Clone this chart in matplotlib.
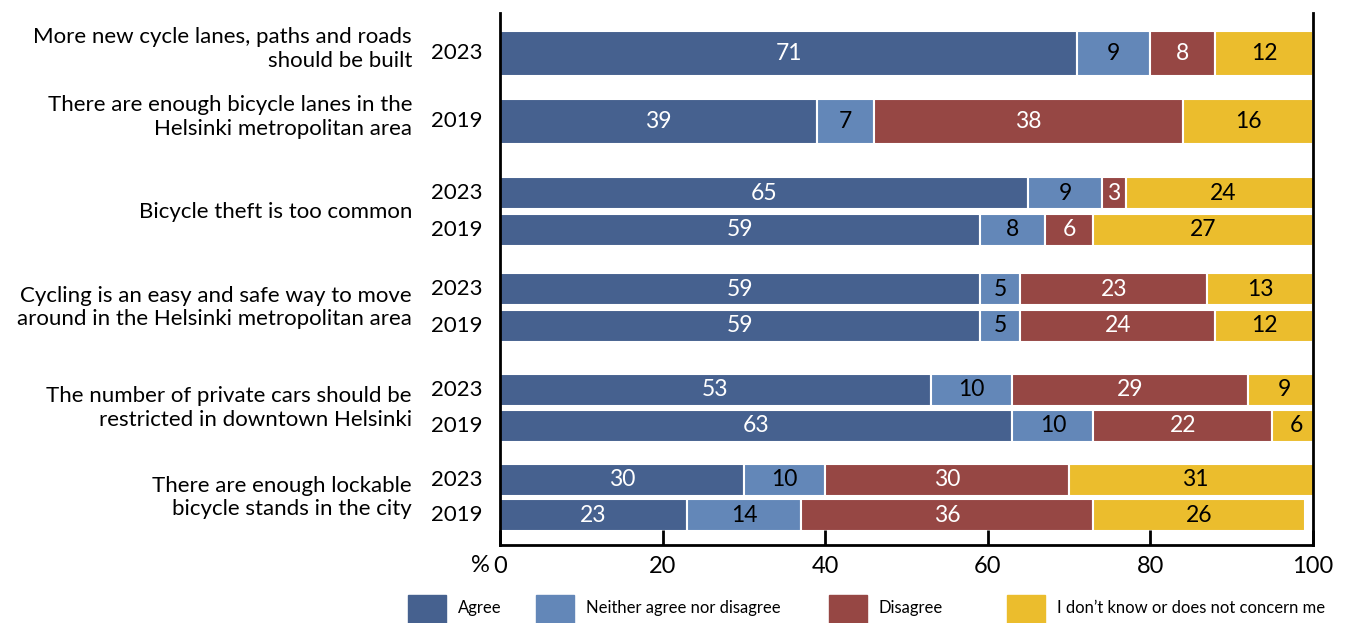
import numpy as np
import matplotlib.pyplot as plt
from matplotlib.patches import Rectangle
import matplotlib.transforms as mtransforms

plt.rcParams['font.family'] = ['Lato', 'DejaVu Sans']

# survey statements (one label per group) and the year of each bar row
statements = ['More new cycle lanes, paths and roads\nshould be built',
              'There are enough bicycle lanes in the\nHelsinki metropolitan area',
              'Bicycle theft is too common',
              'Cycling is an easy and safe way to move\naround in the Helsinki metropolitan area',
              'The number of private cars should be\nrestricted in downtown Helsinki',
              'There are enough lockable\nbicycle stands in the city']
years = ['2023', '2019', '2023', '2019', '2023', '2019', '2023', '2019', '2023', '2019']
row_group = [0, 1, 2, 2, 3, 3, 4, 4, 5, 5]

categories = ['Agree', 'Neither agree nor disagree', 'Disagree',
              'I don\u2019t know or does not concern me']
agree    = [71, 39, 65, 59, 59, 59, 53, 63, 30, 23]
neither  = [9, 7, 9, 8, 5, 5, 10, 10, 10, 14]
disagree = [8, 38, 3, 6, 23, 24, 29, 22, 30, 36]
dontknow = [12, 16, 24, 27, 13, 12, 9, 6, 31, 26]

colors = ['#46618f', '#6387b8', '#964744', '#ebbd2d']
text_colors = ['white', 'black', 'white', 'black']

# bar layout (vertical position and thickness of each row)
row_pos = [53, 121, 193, 230, 289, 326, 390, 426, 480, 515]
row_h = [45, 45, 32, 32, 32, 32, 32, 32, 32, 32]

fig = plt.figure(figsize=(13.47, 6.23), dpi=100)
W, H = 1347, 623
ax = fig.add_axes([500 / W, (H - 545) / H, 813 / W, 532 / H])

series = [agree, neither, disagree, dontknow]
left = np.zeros(len(years))
for vals, col, tcol in zip(series, colors, text_colors):
    vals = np.array(vals)
    ax.barh(row_pos, vals, height=row_h, left=left, color=col,
            edgecolor='white', linewidth=1.5)
    for y, l, v in zip(row_pos, left, vals):
        ax.text(l + v / 2, y, str(v), ha='center', va='center',
                color=tcol, fontsize=16.5)
    left += vals

ax.set_xlim(0, 100)
ax.set_ylim(545, 13)
ax.set_xticks(np.arange(0, 101, 20))
ax.set_yticks([])
ax.tick_params(axis='x', direction='in', length=11, width=2, labelsize=17, pad=8)
for s in ['left', 'right', 'bottom']:
    ax.spines[s].set_linewidth(2)
ax.spines['top'].set_visible(False)
ax.annotate('%', xy=(0, 0), xycoords='axes fraction', xytext=(-10, -21),
            textcoords='offset pixels', ha='right', va='center', fontsize=17)

# year and statement labels left of the axis
trans = mtransforms.blended_transform_factory(fig.transFigure, ax.transData)
for y, yr in zip(row_pos, years):
    ax.text(483 / W, y, yr, transform=trans, ha='right', va='center', fontsize=16)
for g, label in enumerate(statements):
    ys = [p for p, gg in zip(row_pos, row_group) if gg == g]
    ax.text(412 / W, np.mean(ys) - (4 if len(ys) == 1 else 0), label,
            transform=trans, ha='right', va='center', fontsize=16,
            linespacing=1.2)

# legend along the bottom edge
leg_x = [408, 536, 829, 1007]
for x, col, name in zip(leg_x, colors, categories):
    fig.patches.append(Rectangle((x / W, 0), 38 / W, 28 / H, color=col,
                                 transform=fig.transFigure))
    fig.text((x + 50) / W, 15 / H, name, ha='left', va='center', fontsize=12)

fig.savefig('out.png', dpi=100)
